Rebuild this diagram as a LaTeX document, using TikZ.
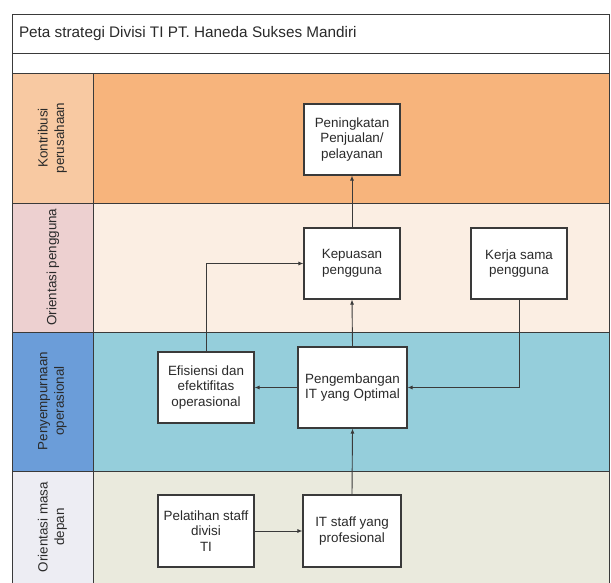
\documentclass[tikz,border=0pt]{standalone}
\usepackage{fontspec}
\setmainfont{Liberation Sans}
\usetikzlibrary{arrows.meta}
\definecolor{lOne}{HTML}{F8C9A2}
\definecolor{cOne}{HTML}{F7B47C}
\definecolor{lTwo}{HTML}{EDD0D0}
\definecolor{cTwo}{HTML}{FBEEE3}
\definecolor{lThree}{HTML}{6B9DD9}
\definecolor{cThree}{HTML}{95CEDB}
\definecolor{lFour}{HTML}{EDEDF3}
\definecolor{cFour}{HTML}{EAEADD}
\definecolor{txt}{HTML}{2A2A2A}
\definecolor{frame}{HTML}{3A3A3A}
\begin{document}
\begin{tikzpicture}[x=1pt,y=-1pt,
  lane/.style={draw=frame,line width=0.9pt},
  box/.style={draw=frame,fill=white,line width=1.1pt,align=center,text=txt,
    font=\fontsize{13.4}{15.5}\selectfont,inner sep=0pt},
  lbl/.style={rotate=90,align=center,text=txt,font=\fontsize{13.4}{16.5}\selectfont},
  arr/.style={draw=frame,line width=0.9pt,-{Latex[length=5pt,width=4pt]}}]
\useasboundingbox (0,0) rectangle (611,583);
% title rows
\draw[lane,fill=white] (12,14) rectangle (609,53);
\draw[lane,fill=white] (12,53) rectangle (609,73);
\node[anchor=west,text=txt,font=\fontsize{15.3}{18}\selectfont] (title) at (15.5,33.5) {Peta strategi Divisi TI PT. Haneda Sukses Mandiri};
% lanes
\draw[lane,fill=lOne] (12,73) rectangle (93,203);
\draw[lane,fill=cOne] (93,73) rectangle (609,203);
\draw[lane,fill=lTwo] (12,203) rectangle (93,332);
\draw[lane,fill=cTwo] (93,203) rectangle (609,332);
\draw[lane,fill=lThree] (12,332) rectangle (93,471);
\draw[lane,fill=cThree] (93,332) rectangle (609,471);
\draw[lane,fill=lFour] (12,471) rectangle (93,583);
\draw[lane,fill=cFour] (93,471) rectangle (609,583);
% lane labels
\node[lbl] (l1) at (52.5,138) {Kontribusi\\perusahaan};
\node[lbl] (l2) at (53,267) {Orientasi pengguna};
\node[lbl] (l3) at (52.5,401) {Penyempurnaan\\operasional};
\node[lbl] (l4) at (52.5,527) {Orientasi masa\\depan};
% boxes
\node[box,minimum width=96pt,minimum height=71pt] (pen) at (352,139.5) {Peningkatan\\Penjualan/\\pelayanan};
\node[box,minimum width=96pt,minimum height=71pt] (kep) at (352,263.5) {Kepuasan\\pengguna};
\node[box,minimum width=96pt,minimum height=71pt] (ks) at (519,263.5) {Kerja sama\\pengguna};
\node[box,minimum width=96pt,minimum height=71pt] (efi) at (206,387.5) {Efisiensi dan\\efektifitas\\operasional};
\node[box,minimum width=109pt,minimum height=81pt] (peng) at (352.5,387.5) {Pengembangan\\IT yang Optimal};
\node[box,minimum width=96pt,minimum height=72pt] (pel) at (206,531) {Pelatihan staff\\divisi\\TI};
\node[box,minimum width=98pt,minimum height=72pt] (its) at (352,531) {IT staff yang\\profesional};
% connectors
\draw[arr] (kep.north) -- (pen.south);
\draw[arr] (peng.north) -- (kep.south);
\draw[arr] (its.north) -- (peng.south);
\draw[arr] (pel.east) -- (its.west);
\draw[arr] (peng.west) -- (efi.east);
\draw[arr] (ks.south) |- (peng.east);
\draw[arr] (efi.north) |- (kep.west);
\end{tikzpicture}
\end{document}
